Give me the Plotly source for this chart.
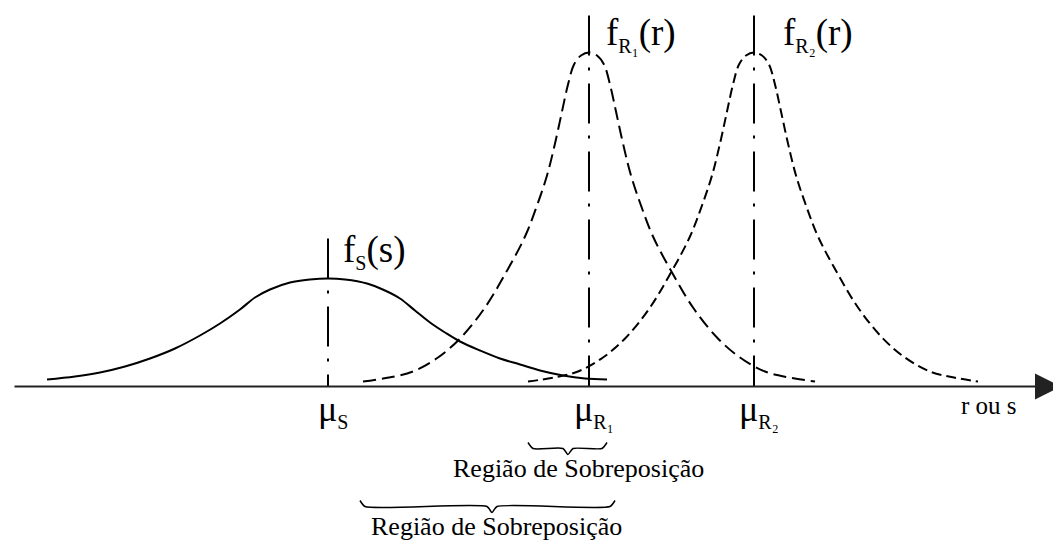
import plotly.graph_objects as go

# curves (x position, height above the axis)
fs_x = [47, 75, 100, 125, 150, 175, 200, 220, 240, 255, 270, 290, 310, 328, 345, 367, 385, 400, 415, 430, 445, 460, 480,
        500, 520, 540, 563, 585, 607]
fs_y = [7, 10, 14, 20, 28, 38, 51, 63, 77, 89, 97, 104, 107, 108, 107, 103, 96, 88, 76, 64, 54, 45, 36, 28, 22, 16, 11,
        8, 7]

fr1_x = [363, 389, 413, 438, 461, 485, 506, 525, 537, 547, 555, 562, 568, 574, 581, 589,
         597, 604, 610, 616, 623, 631, 641, 653, 672, 693, 717, 740, 765, 789, 815]
fr1_y = [5, 9, 15, 29, 49, 79, 114, 150, 181, 211, 243, 275, 302, 322, 331, 334,
         331, 322, 302, 275, 243, 211, 181, 150, 114, 79, 49, 29, 15, 9, 5]

fr2_x = [528, 554, 578, 603, 626, 650, 671, 690, 702, 712, 720, 727, 733, 739, 746, 754,
         762, 769, 775, 781, 788, 796, 806, 818, 837, 858, 882, 905, 930, 954, 978]
fr2_y = [5, 9, 15, 29, 49, 79, 114, 150, 181, 211, 243, 275, 302, 322, 331, 334,
         331, 322, 302, 275, 243, 211, 181, 150, 114, 79, 49, 29, 15, 9, 5]

# means and the top of their marker lines
mu_x = [328, 589, 754]
mu_top = [148, 371, 371]
mu_labels = ['μ<sub><span style="font-size:20px">S</span></sub>',
             'μ<sub><span style="font-size:20px">R₁</span></sub>',
             'μ<sub><span style="font-size:20px">R₂</span></sub>']

curve_labels = ['f<sub><span style="font-size:20px">S</span></sub>(s)',
                'f<sub><span style="font-size:20px">R₁</span></sub>(r)',
                'f<sub><span style="font-size:20px">R₂</span></sub>(r)']
curve_label_x = [341, 604, 781]
curve_label_y = [135, 352, 352]

# overlap regions (start, end)
regions = [(528, 607), (360, 615)]
region_tip = [568, 492]
region_top = [-56, -114]
region_text = 'Região de Sobreposição'

FONT = 'Liberation Serif'
SHIFT = 8  # page body margin

fig = go.Figure()

for xs, ys, dash in [(fs_x, fs_y, 'solid'), (fr1_x, fr1_y, '13px,6px'), (fr2_x, fr2_y, '10px,5px')]:
    fig.add_trace(go.Scatter(x=xs, y=ys, mode='lines',
                             line=dict(color='black', width=2, dash=dash, shape='spline', smoothing=1.0),
                             hoverinfo='skip'))

for m, top in zip(mu_x, mu_top):
    fig.add_trace(go.Scatter(x=[m, m], y=[top, 0], mode='lines',
                             line=dict(color='black', width=2, dash='40px,12px,3px,13px'), hoverinfo='skip'))

# braces
for (a, b), tip, top in zip(regions, region_tip, region_top):
    d = 6
    bx = [a, a + 5, tip - 5, tip, tip + 5, b - 5, b]
    by = [top, top - d, top - d, top - 2 * d, top - d, top - d, top]
    fig.add_trace(go.Scatter(x=bx, y=by, mode='lines',
                             line=dict(color='black', width=1.5, shape='spline', smoothing=0.6),
                             hoverinfo='skip'))

# axis with arrow
fig.add_annotation(x=1061, y=0, ax=13, ay=0, xref='x', yref='y', axref='x', ayref='y', text='',
                   showarrow=True, arrowhead=2, arrowsize=2.6, arrowwidth=2, arrowcolor='#222', standoff=0)

for m, t in zip(mu_x, mu_labels):
    fig.add_annotation(x=m + 5, y=-24, text=t, showarrow=False, font=dict(family=FONT, size=36, color='black'),
                       xanchor='center', yanchor='middle')

for x, y, t in zip(curve_label_x, curve_label_y, curve_labels):
    fig.add_annotation(x=x, y=y, text=t, showarrow=False, font=dict(family=FONT, size=37, color='black'),
                       xanchor='left', yanchor='middle')

fig.add_annotation(x=989, y=-19, text='r ou s', showarrow=False, font=dict(family=FONT, size=25, color='black'),
                   xanchor='center', yanchor='middle')

fig.add_annotation(x=578, y=-82, text=region_text, showarrow=False, font=dict(family=FONT, size=26, color='black'),
                   xanchor='center', yanchor='middle')
fig.add_annotation(x=496, y=-140, text=region_text, showarrow=False, font=dict(family=FONT, size=26, color='black'),
                   xanchor='center', yanchor='middle')

fig.update_xaxes(range=[SHIFT, 1061 + SHIFT], visible=False)
fig.update_yaxes(range=[-153.5 - SHIFT, 386.5 - SHIFT], visible=False)
fig.update_layout(width=1061, height=540, margin=dict(l=0, r=0, t=0, b=0), showlegend=False,
                  plot_bgcolor='white', paper_bgcolor='white')

fig.write_html("out.html")
